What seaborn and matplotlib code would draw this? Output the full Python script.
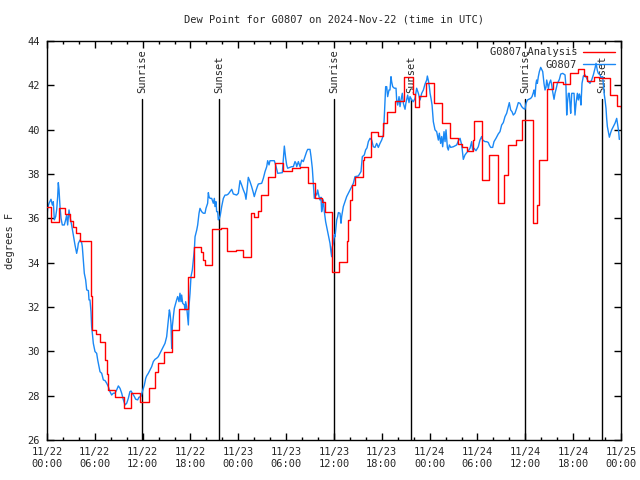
import seaborn as sns
import matplotlib
matplotlib.use('Agg')
import matplotlib.pyplot as plt
import matplotlib.dates as mdates
import pandas as pd

# hours after 2024-11-22 00:00 UTC
analysis_hours = [0.0, 0.5, 1.5, 2.3, 2.9, 3.3, 3.7, 4.1, 5.5, 5.6, 5.7, 6.2, 6.7, 7.3, 7.5, 7.7,
                  8.5, 9.7, 10.5, 11.7, 12.8, 13.6, 13.9, 14.7, 15.7, 16.6, 17.7, 18.5, 19.3, 19.6,
                  19.8, 20.7, 21.8, 22.6, 23.7, 24.6, 25.6, 26.0, 26.5, 26.8, 27.7, 28.6, 29.6, 30.7,
                  31.7, 32.7, 33.6, 34.5, 34.9, 35.7, 36.6, 37.6, 37.8, 38.0, 38.3, 38.6, 39.6, 39.8,
                  40.6, 41.5, 42.2, 42.6, 43.6, 44.8, 45.9, 46.2, 46.7, 47.6, 48.6, 49.6, 50.5, 51.5,
                  52.0, 52.7, 53.4, 53.6, 54.6, 55.5, 56.6, 57.3, 57.8, 58.8, 59.6, 60.9, 61.5, 61.7,
                  62.7, 63.5, 64.7, 65.6, 66.6, 67.3, 67.7, 68.6, 69.2, 70.6, 71.5, 72.0]
analysis_dewpt = [36.5, 35.85, 36.45, 36.2, 35.9, 35.6, 35.35, 35.0, 32.5, 31.8, 30.95, 30.8, 30.4, 29.6, 29.0, 28.25,
                  27.95, 27.45, 28.1, 27.73, 28.33, 29.08, 29.46, 29.99, 30.96, 31.9, 33.34, 34.69, 34.5, 34.1,
                  33.9, 35.5, 35.58, 34.54, 34.57, 34.27, 36.23, 36.05, 36.35, 37.05, 37.85, 38.51, 38.15, 38.26,
                  38.33, 37.61, 36.9, 36.75, 36.3, 33.6, 34.05, 35.0, 35.93, 36.83, 37.5, 37.88, 38.63, 38.78,
                  39.91, 39.72, 40.3, 40.81, 41.3, 42.39, 41.6, 41.04, 41.52, 42.09, 41.22, 40.29, 39.61, 39.35,
                  39.2, 39.05, 39.53, 40.41, 37.73, 38.86, 36.71, 37.96, 39.31, 39.53, 40.44, 35.78, 36.6, 38.63,
                  41.82, 42.17, 42.05, 42.54, 42.72, 42.42, 42.21, 42.39, 42.32, 41.57, 41.07, 41.0]

obs_hours = [0.0, 0.08, 0.25, 0.5, 0.67, 0.79, 0.92, 1.09, 1.21, 1.34, 1.42, 1.51, 1.63, 1.76, 1.92, 2.17,
             2.34, 2.47, 2.59, 2.76, 2.88, 3.09, 3.3, 3.51, 3.72, 3.85, 3.93, 4.14, 4.35, 4.43, 4.56, 4.68,
             4.85, 4.98, 5.19, 5.27, 5.39, 5.52, 5.6, 5.69, 5.81, 6.02, 6.23, 6.36, 6.52, 6.65, 6.86, 7.07,
             7.28, 7.49, 7.69, 7.9, 8.11, 8.32, 8.53, 8.74, 8.95, 9.16, 9.37, 9.58, 9.79, 10.0, 10.2, 10.4,
             10.54, 10.7, 10.96, 11.12, 11.37, 11.54, 11.79, 11.96, 12.21, 12.38, 12.5, 12.71, 12.92, 13.13,
             13.34, 13.55, 13.76, 13.96, 14.17, 14.38, 14.59, 14.8, 15.01, 15.22, 15.35, 15.43, 15.55, 15.64,
             15.72, 15.85, 15.97, 16.14, 16.26, 16.39, 16.56, 16.68, 16.81, 16.89, 17.02, 17.23, 17.31, 17.39,
             17.52, 17.64, 17.73, 17.81, 17.94, 18.06, 18.23, 18.36, 18.48, 18.57, 18.78, 18.9, 19.07, 19.19,
             19.4, 19.61, 19.82, 19.94, 20.15, 20.24, 20.32, 20.45, 20.66, 20.86, 20.99, 21.07, 21.2, 21.28,
             21.41, 21.49, 21.62, 21.74, 21.91, 22.12, 22.33, 22.54, 22.75, 22.95, 23.17, 23.37, 23.79, 24.0,
             24.21, 24.42, 24.63, 24.84, 24.96, 25.09, 25.25, 25.46, 25.67, 25.88, 26.0, 26.17, 26.38, 26.51,
             26.93, 27.14, 27.35, 27.56, 27.68, 27.85, 27.97, 28.51, 28.68, 28.94, 29.52, 29.65, 29.77, 29.85,
             29.94, 30.06, 30.19, 30.69, 30.9, 31.11, 31.24, 31.32, 31.53, 31.74, 31.95, 32.15, 32.36, 32.57,
             32.7, 32.99, 33.12, 33.28, 33.41, 33.53, 33.7, 33.83, 33.95, 34.12, 34.24, 34.37, 34.45, 34.54,
             34.66, 34.79, 34.95, 35.08, 35.29, 35.5, 35.62, 35.71, 35.79, 35.92, 36.04, 36.13, 36.21, 36.34,
             36.46, 36.55, 36.75, 36.88, 36.96, 37.17, 37.38, 37.59, 37.8, 38.01, 38.22, 38.43, 38.63, 39.05,
             39.39, 39.55, 39.8, 39.97, 40.14, 40.31, 40.52, 40.73, 40.93, 41.14, 41.35, 41.56, 41.77, 41.98,
             42.19, 42.31, 42.48, 42.61, 42.73, 42.9, 43.02, 43.15, 43.23, 43.36, 43.57, 43.78, 43.86, 43.99,
             44.16, 44.28, 44.41, 44.57, 44.7, 44.91, 45.03, 45.24, 45.41, 45.54, 45.75, 45.95, 46.16, 46.37,
             46.58, 46.79, 47.0, 47.21, 47.42, 47.63, 47.71, 47.84, 47.96, 48.05, 48.17, 48.3, 48.38, 48.46,
             48.67, 48.88, 49.09, 49.21, 49.38, 49.51, 49.63, 49.8, 49.93, 50.05, 50.13, 50.22, 50.34, 50.47,
             50.64, 50.97, 51.39, 51.6, 51.81, 52.02, 52.14, 52.22, 52.43, 52.64, 52.85, 53.06, 53.27, 53.39,
             53.56, 53.81, 54.1, 54.31, 54.52, 54.65, 54.94, 55.15, 55.36, 55.48, 55.65, 55.9, 56.07, 56.32,
             56.61, 56.82, 57.03, 57.24, 57.45, 57.66, 57.87, 57.99, 58.16, 58.33, 58.49, 58.7, 58.91, 59.12,
             59.33, 59.54, 59.75, 59.96, 60.09, 60.26, 60.67, 60.84, 61.0, 61.09, 61.21, 61.34, 61.42, 61.51,
             61.63, 61.76, 61.93, 62.05, 62.18, 62.34, 62.47, 62.59, 62.68, 62.89, 63.01, 63.18, 63.31, 63.43,
             63.6, 63.72, 63.85, 64.02, 64.14, 64.27, 64.44, 64.69, 64.98, 65.1, 65.19, 65.27, 65.4, 65.52,
             65.61, 65.69, 65.82, 66.11, 66.23, 66.36, 66.53, 66.65, 66.78, 66.86, 66.98, 67.11, 67.28, 67.49,
             67.7, 67.9, 68.11, 68.32, 68.53, 68.74, 68.87, 69.04, 69.16, 69.37, 69.5, 69.7, 69.79, 69.91,
             70.0, 70.12, 70.2, 70.29, 70.41, 70.54, 70.71, 70.83, 71.04, 71.25, 71.46, 71.58, 71.71, 71.79]
obs_dewpt = [36.08, 36.45, 36.68, 36.86, 36.6, 36.75, 35.93, 36.08, 36.38, 36.98, 37.61, 37.28, 36.53, 36.0, 35.7, 35.7,
             35.93, 36.15, 35.7, 36.38, 36.08, 35.7, 35.25, 34.8, 34.42, 34.65, 34.87, 35.02, 34.9, 34.72, 34.12, 33.52,
             33.22, 32.77, 32.74, 32.32, 32.32, 31.79, 31.11, 30.81, 30.36, 29.99, 29.91, 29.61, 29.31, 29.08, 29.01, 28.71,
             28.68, 28.56, 28.41, 28.18, 28.03, 28.11, 28.11, 28.26, 28.44, 28.33, 28.11, 27.81, 27.58, 27.66, 27.88, 28.18,
             28.21, 28.11, 27.96, 27.84, 27.81, 27.93, 27.96, 28.18, 28.48, 28.78, 28.89, 29.01, 29.16, 29.31,
             29.54, 29.64, 29.69, 29.76, 29.91, 30.06, 30.21, 30.36, 30.66, 31.42, 31.87, 31.72, 31.27, 30.14,
             31.11, 31.57, 31.94, 32.17, 32.32, 32.47, 32.24, 32.62, 32.24, 32.54, 32.17, 32.09, 31.87, 32.24,
             32.02, 31.57, 31.19, 32.02, 32.62, 33.37, 33.67, 34.12, 34.57, 35.17, 35.47, 35.7, 36.23, 36.45,
             36.3, 36.23, 36.23, 36.45, 36.68, 37.16, 36.98, 36.9, 36.9, 36.68, 36.9, 36.53, 36.75, 36.3,
             36.3, 35.93, 36.0, 36.15, 36.53, 36.9, 37.05, 37.05, 37.1, 37.2, 37.31, 37.1, 37.05, 37.13,
             37.7, 37.5, 37.28, 37.1, 36.86, 37.28, 37.85, 37.66, 37.43, 37.16, 36.98, 37.2, 37.43, 37.55,
             37.58, 37.81, 38.11, 38.33, 38.6, 38.41, 38.6, 38.6, 38.41, 38.03, 38.06, 38.71, 39.26, 39.01,
             38.71, 38.41, 38.26, 38.33, 38.33, 38.56, 38.48, 38.33, 38.56, 38.33, 38.63, 38.56, 38.78, 39.01,
             39.11, 39.11, 38.78, 38.26, 37.58, 36.9, 37.13, 37.05, 37.28, 36.98, 36.83, 36.95, 36.3, 36.5,
             36.83, 36.3, 35.85, 35.62, 35.25, 34.87, 34.5, 34.27, 34.72, 34.87, 35.25, 35.17, 35.48, 35.93,
             36.08, 36.26, 36.23, 35.78, 36.08, 36.53, 36.75, 36.98, 37.13, 37.28, 37.43, 37.58, 37.88, 37.91,
             38.11, 38.78, 38.86, 39.09, 39.18, 39.46, 39.61, 39.53, 39.23, 39.2, 39.38, 39.2, 39.38, 39.53,
             39.76, 40.59, 41.94, 41.94, 41.49, 41.79, 41.79, 42.39, 42.17, 41.94, 41.87, 41.87, 41.34, 41.11,
             41.49, 41.04, 41.34, 41.64, 41.19, 40.92, 41.22, 41.56, 41.22, 41.49, 41.34, 41.26, 41.41, 41.87,
             41.64, 41.34, 41.64, 41.79, 42.06, 42.24, 42.42, 42.21, 41.94, 41.64, 41.41, 41.11, 40.74, 40.36,
             39.99, 39.91, 39.53, 39.84, 39.38, 39.69, 39.23, 39.91, 39.46, 39.99, 39.61, 39.2, 39.08, 39.31,
             39.2, 39.23, 39.31, 39.5, 39.61, 39.31, 38.93, 38.66, 38.86, 38.96, 39.05, 39.16, 39.46, 39.08,
             39.16, 39.05, 39.23, 39.53, 39.69, 39.53, 39.46, 39.46, 39.42, 39.31, 39.2, 39.2, 39.46, 39.61,
             39.81, 39.91, 40.21, 40.32, 40.59, 40.74, 41.04, 41.22, 40.89, 40.81, 40.66, 40.74, 40.96, 41.22,
             41.19, 41.04, 40.96, 40.92, 41.19, 41.34, 41.41, 41.49, 41.67, 41.79, 41.49, 42.09, 42.24, 42.09,
             42.39, 42.62, 42.81, 42.72, 42.62, 42.09, 41.79, 41.91, 42.24, 41.86, 42.09, 42.24, 42.02, 41.71,
             41.37, 41.64, 41.82, 42.09, 42.17, 42.27, 42.51, 42.54, 42.47, 41.94, 40.66, 41.19, 41.64, 41.64,
             41.11, 40.74, 41.64, 41.64, 40.66, 41.19, 41.64, 41.34, 41.61, 41.49, 41.11, 42.09, 42.42, 42.47,
             42.32, 42.17, 42.09, 42.24, 42.47, 42.77, 42.99, 42.66, 42.54, 42.47, 42.36, 42.39, 42.02, 41.56,
             41.34, 40.96, 40.51, 40.14, 39.91, 39.66, 39.87, 39.99, 40.14, 40.29, 40.51, 40.21, 39.91, 39.56]

event_names = ['Sunrise', 'Sunset', 'Sunrise', 'Sunset', 'Sunrise', 'Sunset']
event_hours = [11.93, 21.62, 36.04, 45.7, 60.0, 69.62]

start = pd.Timestamp('2024-11-22 00:00')
analysis = pd.DataFrame({'time': start + pd.to_timedelta(analysis_hours, unit='h'), 'dewpt': analysis_dewpt})
obs = pd.DataFrame({'time': start + pd.to_timedelta(obs_hours, unit='h'), 'dewpt': obs_dewpt})

sns.set_style('ticks')
plt.rcParams['font.family'] = ['DejaVu Sans Mono']
fs = 7.5

fig, ax = plt.subplots(figsize=(6.4, 4.8), dpi=100)
fig.subplots_adjust(left=47/640, right=621/640, top=1-41/480, bottom=1-440/480)

for name, h in zip(event_names, event_hours):
    t = start + pd.Timedelta(hours=h)
    ax.axvline(t, ymin=0, ymax=(41.38 - 26) / 18, color='black', lw=1.0, zorder=1)
    ax.text(t, 41.65, name, rotation=90, ha='center', va='bottom', fontsize=fs, zorder=1)

sns.lineplot(data=analysis, x='time', y='dewpt', ax=ax, color='#ff0000', lw=1.0,
             drawstyle='steps-post', estimator=None, sort=False, label='G0807 Analysis', zorder=3)
sns.lineplot(data=obs, x='time', y='dewpt', ax=ax, color='#1a88f5', lw=1.0,
             estimator=None, sort=False, label='G0807', zorder=2)

ax.set_xlim(start, start + pd.Timedelta(hours=72))
ax.set_ylim(26, 44)
ax.set_yticks(range(26, 45, 2))
ax.xaxis.set_major_locator(mdates.HourLocator(byhour=[0, 6, 12, 18]))
ax.xaxis.set_minor_locator(mdates.HourLocator(interval=2))
ax.xaxis.set_major_formatter(mdates.DateFormatter('%m/%d\n%H:%M'))
ax.tick_params(axis='both', which='both', direction='in', top=True, right=True,
               labelsize=fs, width=1, color='black')
ax.tick_params(which='major', length=5, pad=5)
ax.tick_params(which='minor', length=2.5)
for s in ax.spines.values():
    s.set_linewidth(1)
    s.set_color('black')

ax.set_xlabel('')
ax.set_ylabel('degrees F', fontsize=fs)
ax.yaxis.set_label_coords(-0.056, 0.5)
ax.set_title('Dew Point for G0807 on 2024-Nov-22 (time in UTC)', fontsize=fs, pad=13)

leg = ax.legend(loc='upper right', frameon=False, markerfirst=False, fontsize=fs,
                handlelength=3.0, labelspacing=0.25, borderaxespad=0.2, handletextpad=0.6)

fig.savefig('out.png', dpi=100)
